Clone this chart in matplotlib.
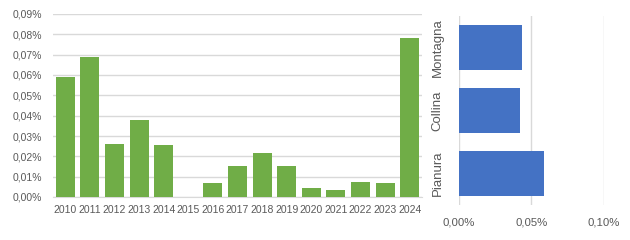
import numpy as np
import matplotlib
matplotlib.use("Agg")
import matplotlib.pyplot as plt
from matplotlib.ticker import FuncFormatter, MultipleLocator

# yearly share (%)
years = [str(y) for y in range(2010, 2025)]
year_values = [0.059, 0.069, 0.026, 0.038, 0.0256, 0.0, 0.0069, 0.0153, 0.0217,
               0.0153, 0.0044, 0.0034, 0.0074, 0.0069, 0.0783]

# share by altitude zone (%)
zones = ["Pianura", "Collina", "Montagna"]
zone_values = [0.0587, 0.0422, 0.0435]

GREEN = "#70AD47"
BLUE = "#4472C4"
GRID = "#D9D9D9"
TEXT = "#595959"

plt.rcParams["font.family"] = ["Liberation Sans", "DejaVu Sans"]
plt.rcParams["font.size"] = 7.5


def pct(v, _pos):
    return f"{v:.2f}%".replace(".", ",")


fig = plt.figure(figsize=(6.3, 2.4), dpi=100)

# =====================================================
# Left: by year
# =====================================================

ax1 = fig.add_axes([53 / 630, 43 / 240, 369 / 630, 183 / 240])
x = np.arange(len(years))
ax1.bar(x, year_values, width=0.77, color=GREEN, zorder=3)
ax1.set_xlim(-0.5, len(years) - 0.5)
ax1.set_ylim(0, 0.09)
ax1.yaxis.set_major_locator(MultipleLocator(0.01))
ax1.yaxis.set_major_formatter(FuncFormatter(pct))
ax1.set_xticks(x)
ax1.set_xticklabels(years)
ax1.grid(axis="y", color=GRID, linewidth=1, zorder=0)
for s in ["top", "right", "left"]:
    ax1.spines[s].set_visible(False)
ax1.spines["bottom"].set_color(GRID)
ax1.tick_params(axis="both", length=0, colors=TEXT)
ax1.tick_params(axis="y", pad=8)
ax1.tick_params(axis="x", pad=6)

# =====================================================
# Right: by zone
# =====================================================

ax2 = fig.add_axes([458.7 / 630, 35 / 240, 145.3 / 630, 189 / 240])
y = np.arange(len(zones))
ax2.barh(y, zone_values, height=0.7, color=BLUE, zorder=3)
ax2.set_ylim(-0.5, len(zones) - 0.5)
ax2.set_xlim(0, 0.1)
ax2.xaxis.set_major_locator(MultipleLocator(0.05))
ax2.xaxis.set_major_formatter(FuncFormatter(pct))
ax2.set_yticks(y)
ax2.set_yticklabels(zones, rotation=90, va="center", fontsize=9.5)
ax2.grid(axis="x", color=GRID, linewidth=1, zorder=0)
for s in ["top", "right", "left", "bottom"]:
    ax2.spines[s].set_visible(False)
ax2.tick_params(axis="both", length=0, colors=TEXT)
ax2.tick_params(axis="y", pad=11)
ax2.tick_params(axis="x", pad=9, labelsize=8.2)

fig.savefig("out.png", dpi=100)
